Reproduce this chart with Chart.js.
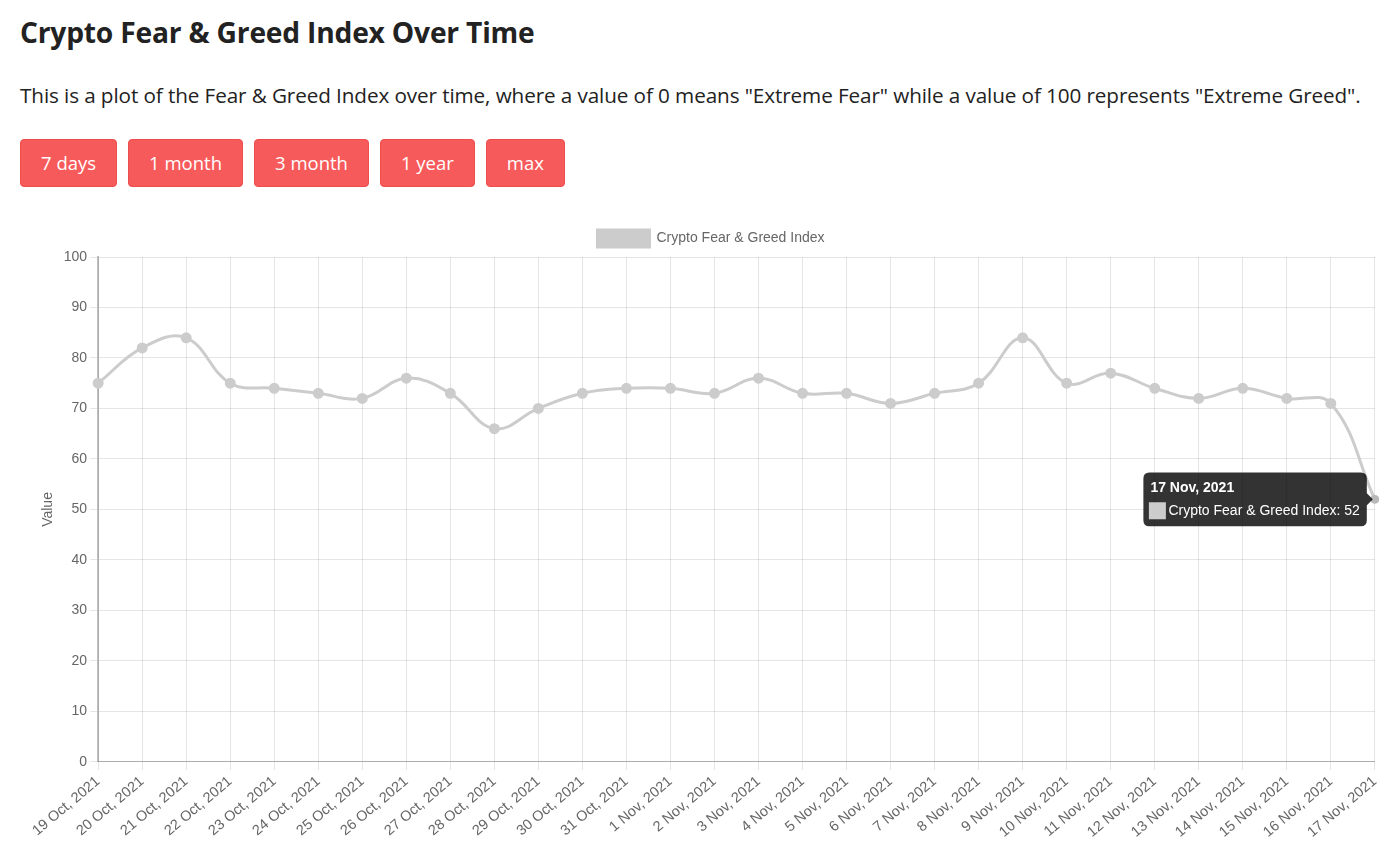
<!DOCTYPE html>
<html>
<head>
<meta charset="utf-8">
<script src="https://cdn.jsdelivr.net/npm/chart.js@4.4.0/dist/chart.umd.min.js"></script>
<style>
  body { margin: 0; background: #fff; font-family: "Open Sans", Lato, sans-serif; color: #222; }
  h1 { position: absolute; left: 20px; top: 13px; margin: 0; font-size: 28.2px; font-weight: 700; letter-spacing: -0.2px; }
  p.desc { position: absolute; left: 20px; top: 81px; margin: 0; font-size: 20.7px; letter-spacing: -0.1px; color: #222; }
  .btns { position: absolute; left: 20px; top: 139px; }
  .btns button { height: 48px; margin-right: 11px; padding: 0 20px 2px; background: #f75a5a; color: #fff;
    border: 1px solid #ee4d4d; border-radius: 4px; font-family: "Open Sans", Lato, sans-serif; font-size: 18.5px; }
  #wrap { position: absolute; left: 20px; top: 220px; width: 1369px; height: 624px; }
</style>
</head>
<body>
<h1>Crypto Fear &amp; Greed Index Over Time</h1>
<p class="desc">This is a plot of the Fear &amp; Greed Index over time, where a value of 0 means "Extreme Fear" while a value of 100 represents "Extreme Greed".</p>
<div class="btns">
  <button>7 days</button><button>1 month</button><button>3 month</button><button>1 year</button><button>max</button>
</div>
<div id="wrap"><canvas id="chart"></canvas></div>
<script>
// Datas e valores do índice
const datas = [
  '19 Oct, 2021', '20 Oct, 2021', '21 Oct, 2021', '22 Oct, 2021', '23 Oct, 2021', '24 Oct, 2021',
  '25 Oct, 2021', '26 Oct, 2021', '27 Oct, 2021', '28 Oct, 2021', '29 Oct, 2021', '30 Oct, 2021',
  '31 Oct, 2021', '1 Nov, 2021', '2 Nov, 2021', '3 Nov, 2021', '4 Nov, 2021', '5 Nov, 2021',
  '6 Nov, 2021', '7 Nov, 2021', '8 Nov, 2021', '9 Nov, 2021', '10 Nov, 2021', '11 Nov, 2021',
  '12 Nov, 2021', '13 Nov, 2021', '14 Nov, 2021', '15 Nov, 2021', '16 Nov, 2021', '17 Nov, 2021'
];
const indice = [
  75, 82, 84, 75, 74, 73, 72, 76, 73, 66, 70, 73, 74, 74, 73,
  76, 73, 73, 71, 73, 75, 84, 75, 77, 74, 72, 74, 72, 71, 52
];
const yTicks = { min: 0, max: 100, step: 10 };

const cinza = 'rgb(204,204,204)';
Chart.defaults.font.family = '"Liberation Sans", Arial, sans-serif';
Chart.defaults.font.size = 14;
Chart.defaults.color = '#666';

const chart = new Chart(document.getElementById('chart'), {
  type: 'line',
  data: {
    labels: datas,
    datasets: [{
      label: 'Crypto Fear & Greed Index',
      data: indice,
      borderColor: cinza,
      backgroundColor: cinza,
      borderWidth: 3,
      pointRadius: 4,
      pointBackgroundColor: cinza,
      pointBorderColor: cinza,
      fill: false,
      tension: 0.4
    }]
  },
  options: {
    responsive: true,
    maintainAspectRatio: false,
    animation: false,
    layout: { padding: { right: 3, left: 16 } },
    plugins: {
      legend: {
        labels: { boxWidth: 52, boxHeight: 17, color: '#666', font: { size: 14 } }
      },
      tooltip: {
        backgroundColor: 'rgba(0,0,0,0.8)',
        titleFont: { size: 14, weight: 'bold' },
        bodyFont: { size: 14 },
        padding: 7,
        caretSize: 6,
        cornerRadius: 6,
        boxPadding: 2
      }
    },
    scales: {
      x: {
        grid: { color: 'rgba(0,0,0,0.1)' },
        border: { color: 'rgba(0,0,0,0.25)', width: 1 },
        ticks: { maxRotation: 40, minRotation: 40, autoSkip: false, color: '#666', font: { size: 14.5 } }
      },
      y: {
        min: yTicks.min,
        max: yTicks.max,
        grid: { color: 'rgba(0,0,0,0.1)' },
        border: { color: 'rgba(0,0,0,0.25)', width: 2 },
        ticks: { stepSize: yTicks.step, color: '#666', font: { size: 14 } },
        title: { display: true, text: 'Value', color: '#666', font: { size: 14 } }
      }
    }
  }
});

// Mostra o tooltip do último ponto
const ultimo = indice.length - 1;
const meta = chart.getDatasetMeta(0).data[ultimo];
chart.tooltip.setActiveElements([{ datasetIndex: 0, index: ultimo }], { x: meta.x, y: meta.y });
chart.setActiveElements([{ datasetIndex: 0, index: ultimo }]);
chart.update();
</script>
</body>
</html>
